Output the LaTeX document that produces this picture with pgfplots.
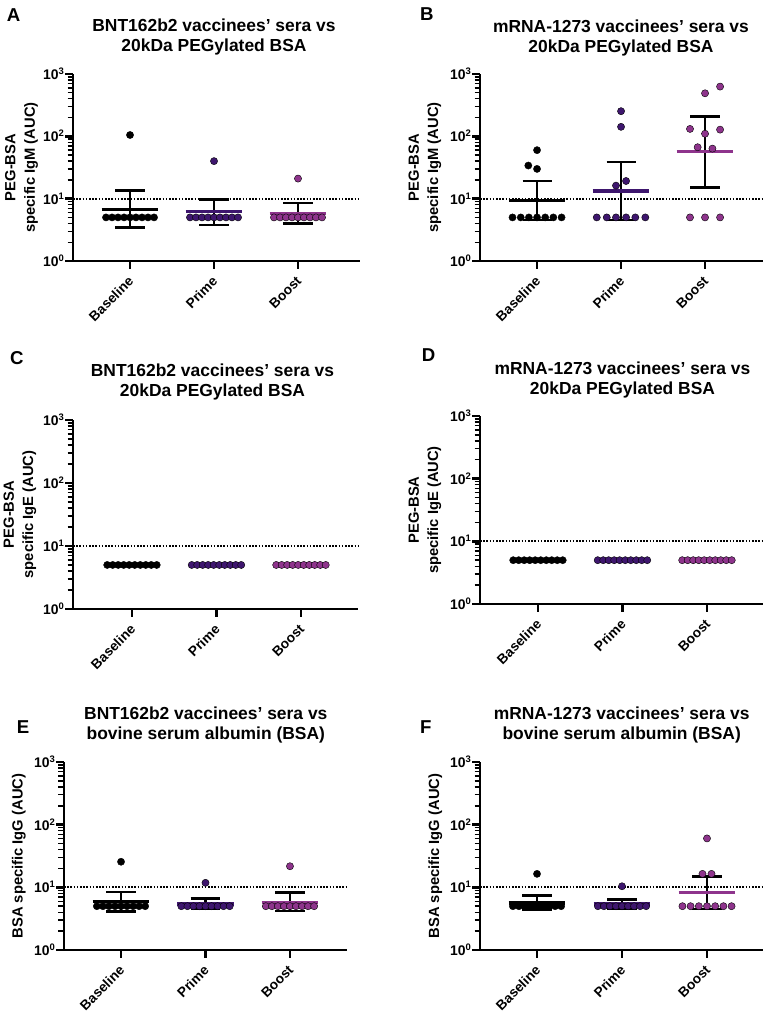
\documentclass[border=0pt]{standalone}
\usepackage{pgfplots}
\pgfplotsset{compat=1.18}
\usepackage{fontspec}
\setmainfont{Liberation Sans}
\definecolor{cprime}{RGB}{62,22,110}
\definecolor{cboost}{RGB}{142,52,140}
\newcommand{\tp}[1]{10\raisebox{5bp}{\fontsize{9.5}{9.5}\selectfont #1}}
\newcommand{\eb}[5]{%
  \addplot[black, line width=2.6bp] coordinates {(#2,#4) (#2,#5)};
  \addplot[black, line width=2.6bp] coordinates {(#1,#4) (#3,#4)};
  \addplot[black, line width=2.6bp] coordinates {(#1,#5) (#3,#5)};}
\newcommand{\ml}[4]{\addplot[#4, line width=3.3bp] coordinates {(#1,#3) (#2,#3)};}
\newcommand{\thr}[2]{\addplot[black, line width=1.8bp, dash pattern=on 1.6bp off 1.6bp] coordinates {(#1,10) (#2,10)};}
\pgfplotsset{
  myPanel/.style={
    scale only axis, anchor=south west, clip=false,
    ymin=1, ymax=1000,
    axis x line*=bottom, axis y line*=left,
    axis line style={line width=2.7bp, -},
    xtick={0,1,2}, xticklabels={Baseline,Prime,Boost},
    ytick={1,10,100,1000}, yticklabels={\tp{0},\tp{1},\tp{2},\tp{3}},
    minor ytick={2,3,4,5,6,7,8,9,20,30,40,50,60,70,80,90,200,300,400,500,600,700,800,900},
    tick align=outside, major tick length=8bp, minor tick length=5.5bp,
    major tick style={black, line width=2.5bp},
    minor tick style={black, line width=1.4bp},
    yticklabel style={font=\fontsize{14}{16}\selectfont\bfseries, anchor=base east, inner sep=0pt, xshift=-1bp, yshift=-5.5bp},
    xticklabel style={font=\fontsize{13.7}{16}\selectfont\bfseries, yshift=-10bp, xshift=1bp, rotate=45, anchor=east, inner sep=0pt},
  },
  myPts/.style={only marks, mark=*, mark size=3.6bp, draw=none, fill=#1, mark options={draw=none, fill=#1}},
}
\begin{document}
\begin{tikzpicture}
\path[use as bounding box] (0bp,0bp) rectangle (764bp,1015bp);

% ---------------- Panel A ----------------
\begin{axis}[ymode=log, myPanel, at={(73bp,754bp)}, width=287bp, height=187bp, xmin=-0.679, xmax=2.738]
\thr{-0.679}{2.738}
\addplot[myPts=black] coordinates {(-0.286,5) (-0.214,5) (-0.143,5) (-0.071,5) (0,5) (0.071,5) (0.143,5) (0.214,5) (0.286,5) (0,105)};
\addplot[myPts=cprime] coordinates {(0.714,5) (0.786,5) (0.857,5) (0.929,5) (1,5) (1.071,5) (1.143,5) (1.214,5) (1.286,5) (1,40)};
\addplot[myPts=cboost] coordinates {(1.714,5) (1.786,5) (1.857,5) (1.929,5) (2,5) (2.071,5) (2.143,5) (2.214,5) (2.286,5) (2,21)};
\eb{-0.178}{0}{0.178}{3.43}{13.4}
\eb{0.822}{1}{1.178}{3.8}{9.8}
\eb{1.822}{2}{2.178}{4.0}{8.5}
\ml{-0.337}{0.337}{6.78}{black}
\ml{0.663}{1.337}{6.2}{cprime}
\ml{1.663}{2.337}{5.8}{cboost}
\end{axis}

% ---------------- Panel B ----------------
\begin{axis}[ymode=log, myPanel, at={(480bp,754bp)}, width=283bp, height=187bp, xmin=-0.679, xmax=2.690]
\thr{-0.679}{2.690}
\addplot[myPts=black] coordinates {(-0.292,5) (-0.194,5) (-0.097,5) (0,5) (0.097,5) (0.194,5) (0.292,5) (-0.104,34) (0,30) (0,60)};
\addplot[myPts=cprime] coordinates {(0.711,5) (0.830,5) (0.940,5) (1.060,5) (1.170,5) (1.289,5) (1,253) (1,142) (0.940,16.2) (1.060,19.2)};
\addplot[myPts=cboost] coordinates {(1.821,5) (2,5) (2.179,5) (2.179,628) (2,490) (1.821,131.5) (2,110) (2.179,128) (1.912,66.8) (2.088,63.5)};
\eb{-0.173}{0}{0.173}{4.55}{19.2}
\eb{0.827}{1}{1.173}{4.55}{38.8}
\eb{1.821}{2}{2.179}{15}{207}
\ml{-0.337}{0.337}{9.3}{black}
\ml{0.663}{1.337}{13.3}{cprime}
\ml{1.663}{2.337}{56.8}{cboost}
\end{axis}

% ---------------- Panel C ----------------
\begin{axis}[ymode=log, myPanel, at={(73bp,406bp)}, width=285bp, height=189bp, xmin=-0.698, xmax=2.675]
\thr{-0.698}{2.675}
\addplot[myPts=black] coordinates {(-0.293,5) (-0.228,5) (-0.163,5) (-0.098,5) (-0.033,5) (0.033,5) (0.098,5) (0.163,5) (0.228,5) (0.293,5)};
\addplot[myPts=cprime] coordinates {(0.707,5) (0.772,5) (0.837,5) (0.902,5) (0.967,5) (1.033,5) (1.098,5) (1.163,5) (1.228,5) (1.293,5)};
\addplot[myPts=cboost] coordinates {(1.707,5) (1.772,5) (1.837,5) (1.902,5) (1.967,5) (2.033,5) (2.098,5) (2.163,5) (2.228,5) (2.293,5)};
\end{axis}

% ---------------- Panel D ----------------
\begin{axis}[ymode=log, myPanel, at={(480bp,411bp)}, width=283bp, height=188bp, xmin=-0.686, xmax=2.663]
\thr{-0.686}{2.663}
\addplot[myPts=black] coordinates {(-0.293,5) (-0.228,5) (-0.163,5) (-0.098,5) (-0.033,5) (0.033,5) (0.098,5) (0.163,5) (0.228,5) (0.293,5)};
\addplot[myPts=cprime] coordinates {(0.707,5) (0.772,5) (0.837,5) (0.902,5) (0.967,5) (1.033,5) (1.098,5) (1.163,5) (1.228,5) (1.293,5)};
\addplot[myPts=cboost] coordinates {(1.707,5) (1.772,5) (1.837,5) (1.902,5) (1.967,5) (2.033,5) (2.098,5) (2.163,5) (2.228,5) (2.293,5)};
\end{axis}

% ---------------- Panel E ----------------
\begin{axis}[ymode=log, myPanel, at={(64bp,65bp)}, width=283bp, height=188bp, xmin=-0.675, xmax=2.675]
\thr{-0.675}{2.675}
\addplot[myPts=black] coordinates {(-0.286,5) (-0.214,5) (-0.143,5) (-0.071,5) (0,5) (0.071,5) (0.143,5) (0.214,5) (0.286,5) (0,25.6)};
\addplot[myPts=cprime] coordinates {(0.714,5) (0.786,5) (0.857,5) (0.929,5) (1,5) (1.071,5) (1.143,5) (1.214,5) (1.286,5) (1,11.8)};
\addplot[myPts=cboost] coordinates {(1.714,5) (1.786,5) (1.857,5) (1.929,5) (2,5) (2.071,5) (2.143,5) (2.214,5) (2.286,5) (2,21.7)};
\eb{-0.177}{0}{0.177}{4.1}{8.4}
\eb{0.823}{1}{1.177}{4.5}{6.6}
\eb{1.823}{2}{2.177}{4.2}{8.3}
\ml{-0.335}{0.335}{5.9}{black}
\ml{0.665}{1.335}{5.4}{cprime}
\ml{1.665}{2.335}{5.8}{cboost}
\end{axis}

% ---------------- Panel F ----------------
\begin{axis}[ymode=log, myPanel, at={(480bp,65bp)}, width=283bp, height=188bp, xmin=-0.671, xmax=2.659]
\thr{-0.671}{2.659}
\addplot[myPts=black] coordinates {(-0.284,5) (-0.213,5) (-0.142,5) (-0.071,5) (0,5) (0.071,5) (0.142,5) (0.213,5) (0.284,5) (0,16.4)};
\addplot[myPts=cprime] coordinates {(0.716,5) (0.787,5) (0.858,5) (0.929,5) (1,5) (1.071,5) (1.142,5) (1.213,5) (1.284,5) (1,10.4)};
\addplot[myPts=cboost] coordinates {(1.711,5) (1.807,5) (1.904,5) (2,5) (2.096,5) (2.193,5) (2.289,5) (1.947,16.4) (2.053,16.4) (2,60.3)};
\eb{-0.176}{0}{0.176}{4.4}{7.4}
\eb{0.824}{1}{1.176}{4.6}{6.4}
\eb{1.824}{2}{2.176}{4.5}{15}
\ml{-0.333}{0.333}{5.6}{black}
\ml{0.667}{1.333}{5.4}{cprime}
\ml{1.667}{2.333}{8.3}{cboost}
\end{axis}

% ---------------- Titles ----------------
\tikzset{ttl/.style={anchor=north, align=center, inner sep=0pt, font=\fontsize{17.5}{20}\selectfont\bfseries},
         ylab/.style={rotate=90, anchor=north, align=center, inner sep=0pt, font=\fontsize{14.8}{19.5}\selectfont\bfseries},
         plet/.style={anchor=base west, inner sep=0pt, font=\fontsize{18.7}{20}\selectfont\bfseries}}
\node[ttl] at (214bp,996.7bp) {BNT162b2 vaccinees’ sera vs\\20kDa PEGylated BSA};
\node[ttl] at (621bp,995.7bp) {mRNA-1273 vaccinees’ sera vs\\20kDa PEGylated BSA};
\node[ttl] at (212.5bp,651.7bp) {BNT162b2 vaccinees’ sera vs\\20kDa PEGylated BSA};
\node[ttl] at (622.5bp,653.3bp) {mRNA-1273 vaccinees’ sera vs\\20kDa PEGylated BSA};
\node[ttl] at (205.8bp,308.3bp) {BNT162b2 vaccinees’ sera vs\\bovine serum albumin (BSA)};
\node[ttl] at (621.7bp,308.3bp) {mRNA-1273 vaccinees’ sera vs\\bovine serum albumin (BSA)};

\node[ylab] at (5bp,847.5bp) {PEG-BSA\\specific IgM (AUC)};
\node[ylab] at (408.3bp,847.5bp) {PEG-BSA\\specific IgM (AUC)};
\node[ylab] at (3.3bp,500.5bp) {PEG-BSA\\specific IgE (AUC)};
\node[ylab] at (408.3bp,505bp) {PEG-BSA\\specific IgE (AUC)};
\node[ylab] at (11.7bp,159bp) {BSA specific IgG (AUC)};
\node[ylab] at (428.3bp,159bp) {BSA specific IgG (AUC)};

\node[plet] at (6.7bp,993.3bp) {A};
\node[plet] at (420bp,994.3bp) {B};
\node[plet] at (10bp,650bp) {C};
\node[plet] at (421.7bp,653.3bp) {D};
\node[plet] at (16.7bp,281.7bp) {E};
\node[plet] at (420bp,281.7bp) {F};
\end{tikzpicture}
\end{document}
